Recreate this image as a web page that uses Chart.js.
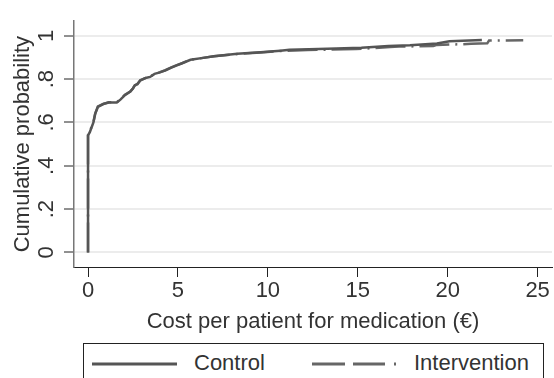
<!DOCTYPE html>
<html>
<head>
<meta charset="utf-8">
<script src="https://cdn.jsdelivr.net/npm/chart.js@4"></script>
<style>
  body { margin: 0; background: #fff; font-family: "Liberation Sans", Arial, sans-serif; }
  #wrap { position: relative; width: 554px; height: 378px; overflow: hidden; }
  #cdf { position: absolute; left: 0; top: 0; }
  #legend { position: absolute; left: 83px; top: 343px; width: 461px; height: 44px;
            border: 1px solid #222; box-sizing: border-box; }
  #legend svg { position: absolute; top: 0; left: 0; }
  #legend span { position: absolute; top: 6px; font-size: 22px; color: #333; line-height: 26px; }
</style>
</head>
<body>
<div id="wrap">
  <canvas id="cdf" width="554" height="340"></canvas>
  <div id="legend">
    <svg width="461" height="44">
      <line x1="8" y1="20" x2="93" y2="20" stroke="#555" stroke-width="3"/>
      <line x1="228" y1="20" x2="312" y2="20" stroke="#666" stroke-width="3" stroke-dasharray="33 8 32 9 2 40"/>
    </svg>
    <span style="left:110px">Control</span>
    <span style="left:330px">Intervention</span>
  </div>
</div>
<script>
// cost (EUR) and cumulative probability
const controlX = [0, 0, 0.1, 0.2, 0.3, 0.4, 0.55, 0.85, 1.15, 1.6, 1.8, 2.05, 2.35, 2.5, 2.6, 2.75, 2.9, 3.2, 3.45, 3.7, 4.0, 4.3, 4.6, 4.9, 5.2, 5.7, 6.4, 7.0, 8.3, 9.6, 10.7, 11.2, 12.3, 13.8, 15.2, 16.7, 17.9, 19.4, 20.1, 21.9];
const controlY = [0, 0.54, 0.555, 0.578, 0.6, 0.64, 0.672, 0.685, 0.692, 0.692, 0.705, 0.726, 0.742, 0.757, 0.772, 0.776, 0.795, 0.805, 0.81, 0.824, 0.831, 0.84, 0.852, 0.862, 0.872, 0.889, 0.898, 0.905, 0.917, 0.924, 0.931, 0.935, 0.938, 0.941, 0.945, 0.953, 0.956, 0.964, 0.975, 0.98];

const interventionX = [0, 0, 0.1, 0.2, 0.3, 0.4, 0.55, 0.85, 1.15, 1.6, 1.8, 2.05, 2.35, 2.5, 2.6, 2.75, 2.9, 3.2, 3.45, 3.7, 4.0, 4.3, 4.6, 4.9, 5.2, 5.7, 6.4, 7.0, 8.3, 9.6, 10.7, 11.5, 12.2, 13.3, 14.9, 15.8, 16.8, 17.3, 19.2, 19.4, 20.8, 21.3, 22.2, 22.3, 24.2];
const interventionY = [0, 0.545, 0.56, 0.58, 0.602, 0.642, 0.674, 0.686, 0.693, 0.693, 0.707, 0.728, 0.743, 0.758, 0.77, 0.778, 0.793, 0.806, 0.811, 0.825, 0.832, 0.841, 0.853, 0.863, 0.873, 0.889, 0.898, 0.905, 0.916, 0.923, 0.93, 0.932, 0.934, 0.936, 0.939, 0.943, 0.948, 0.95, 0.953, 0.958, 0.961, 0.963, 0.965, 0.978, 0.979];

const xTicks = [0, 5, 10, 15, 20, 25];
const yTicks = [0, 0.2, 0.4, 0.6, 0.8, 1];
const yTickLabels = ['0', '.2', '.4', '.6', '.8', '1'];

const toPoints = (xs, ys) => xs.map((x, i) => ({ x: x, y: ys[i] }));
const font = { family: '"Liberation Sans", Arial, sans-serif', size: 22 };

new Chart(document.getElementById('cdf'), {
    type: 'line',
    data: {
        datasets: [{
            label: 'Control',
            data: toPoints(controlX, controlY),
            borderColor: '#555555',
            borderWidth: 2.5,
            pointRadius: 0,
            tension: 0
        }, {
            label: 'Intervention',
            data: toPoints(interventionX, interventionY),
            borderColor: '#666666',
            borderWidth: 2.5,
            borderDash: [30, 6, 2, 6],
            pointRadius: 0,
            tension: 0
        }]
    },
    options: {
        responsive: false,
        animation: false,
        layout: { padding: { top: 14, right: 2, left: 0, bottom: 0 } },
        plugins: { legend: { display: false }, tooltip: { enabled: false } },
        scales: {
            x: {
                type: 'linear',
                min: -0.78,
                max: 25.8,
                afterBuildTicks: s => { s.ticks = xTicks.map(v => ({ value: v })); },
                afterFit: s => { s.height = 73; },
                border: { color: '#222', width: 1 },
                grid: { drawOnChartArea: false, tickLength: 10, tickColor: '#222', tickWidth: 1 },
                ticks: { font: font, color: '#333', padding: 1, maxRotation: 0 },
                title: { display: true, text: 'Cost per patient for medication (€)', font: font, color: '#333', padding: { top: 0, bottom: 5 } }
            },
            y: {
                min: -0.0673,
                max: 1.0673,
                afterBuildTicks: s => { s.ticks = yTicks.map(v => ({ value: v })); },
                afterFit: s => { s.width = 74; },
                border: { color: '#777', width: 1.5 },
                grid: { color: '#ececec', lineWidth: 2, tickLength: 10, tickColor: '#222', tickWidth: 1 },
                ticks: {
                    font: font, color: '#333', padding: 8, minRotation: 90, maxRotation: 90, crossAlign: 'center',
                    callback: v => yTickLabels[yTicks.indexOf(Math.round(v * 10) / 10)]
                },
                title: { display: true, text: 'Cumulative probability', font: font, color: '#333', padding: { top: 10, bottom: 0 } }
            }
        }
    }
});
</script>
</body>
</html>
